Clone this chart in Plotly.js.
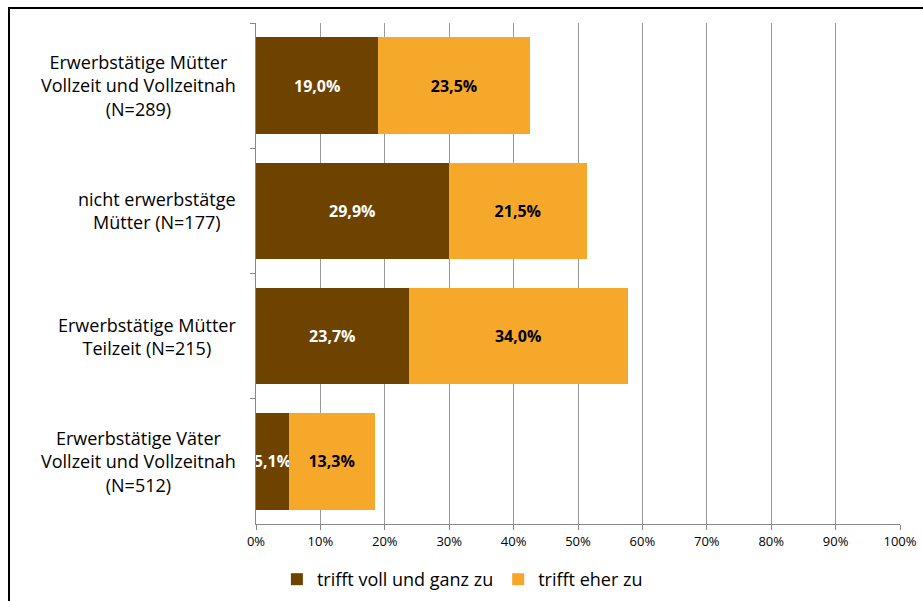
<!DOCTYPE html>
<html>
<head>
<meta charset="utf-8">
<script src="https://cdn.plot.ly/plotly-3.0.1.min.js"></script>
<style>
html,body{margin:0;padding:0;background:#fff;overflow:hidden;}
#wrap{position:relative;width:923px;height:601px;}
#chart{width:923px;height:601px;}
#frame{position:absolute;left:8px;top:7px;width:930px;height:610px;border-top:2px solid #000;border-left:2px solid #000;pointer-events:none;}
</style>
</head>
<body>
<div id="wrap"><div id="chart"></div><div id="frame"></div></div>
<script>
const categories = [
  "Erwerbstätige Mütter<br>Vollzeit und Vollzeitnah<br>(N=289)",
  "nicht erwerbstätge<br>Mütter (N=177)",
  "Erwerbstätige Mütter<br>Teilzeit (N=215)",
  "Erwerbstätige Väter<br>Vollzeit und Vollzeitnah<br>(N=512)"
];
const seriesNames = ["trifft voll und ganz zu", "trifft eher zu"];
const vollUndGanz = [19.0, 29.9, 23.7, 5.1];
const eherZu = [23.5, 21.5, 34.0, 13.3];
const tickValues = [0,10,20,30,40,50,60,70,80,90,100];

const fmt = v => v.toFixed(1).replace('.', ',') + '%';
const FONT = '"Open Sans", Lato, sans-serif';
const ids = categories.map((c,i)=>'c'+i);

const traces = [
  {type:'bar', orientation:'h', name:seriesNames[0], y:ids, x:vollUndGanz,
   marker:{color:'#6E4300'}, text:vollUndGanz.map(fmt), textposition:'inside',
   insidetextanchor:'middle', constraintext:'none', textangle:0,
   textfont:{family:FONT, size:16, color:'#fff', weight:'bold'}, hoverinfo:'skip'},
  {type:'bar', orientation:'h', name:seriesNames[1], y:ids, x:eherZu,
   marker:{color:'#F5A82A'}, text:eherZu.map(fmt), textposition:'inside',
   insidetextanchor:'middle', constraintext:'none', textangle:0,
   textfont:{family:FONT, size:16, color:'#000', weight:'bold'}, hoverinfo:'skip'}
];

const annotations = categories.map((c,i)=>({
  xref:'paper', yref:'y', x:0, y:ids[i], xanchor:'right', xshift:-18,
  text:c, showarrow:false, align:'center',
  font:{family:FONT, size:18, color:'#000'}
}));

const layout = {
  width:923, height:601,
  margin:{l:256, r:23, t:23, b:77, autoexpand:false},
  paper_bgcolor:'#fff', plot_bgcolor:'#fff',
  barmode:'stack', bargap:0.23,
  showlegend:true,
  legend:{orientation:'h', xref:'container', yref:'container', x:0.30, xanchor:'left',
    y:(601-561)/601, yanchor:'top',
    font:{family:FONT, size:18, color:'#000'}, itemwidth:30, traceorder:'normal'},
  xaxis:{range:[0,100], tickvals:tickValues, ticktext:tickValues.map(v=>v+'%'),
    showgrid:true, gridcolor:'#999', gridwidth:1, zeroline:false,
    showline:true, linecolor:'#888', ticks:'outside', ticklen:5, tickcolor:'#888',
    tickfont:{family:FONT, size:13, color:'#000'}, fixedrange:true},
  yaxis:{type:'category', autorange:'reversed', showticklabels:false,
    showline:true, linecolor:'#888', ticks:'outside', ticklen:5, tickcolor:'#888',
    tickson:'boundaries', showgrid:false, fixedrange:true},
  annotations:annotations,
  font:{family:FONT}
};

Plotly.newPlot('chart', traces, layout, {displayModeBar:false, staticPlot:true});
</script>
</body>
</html>
